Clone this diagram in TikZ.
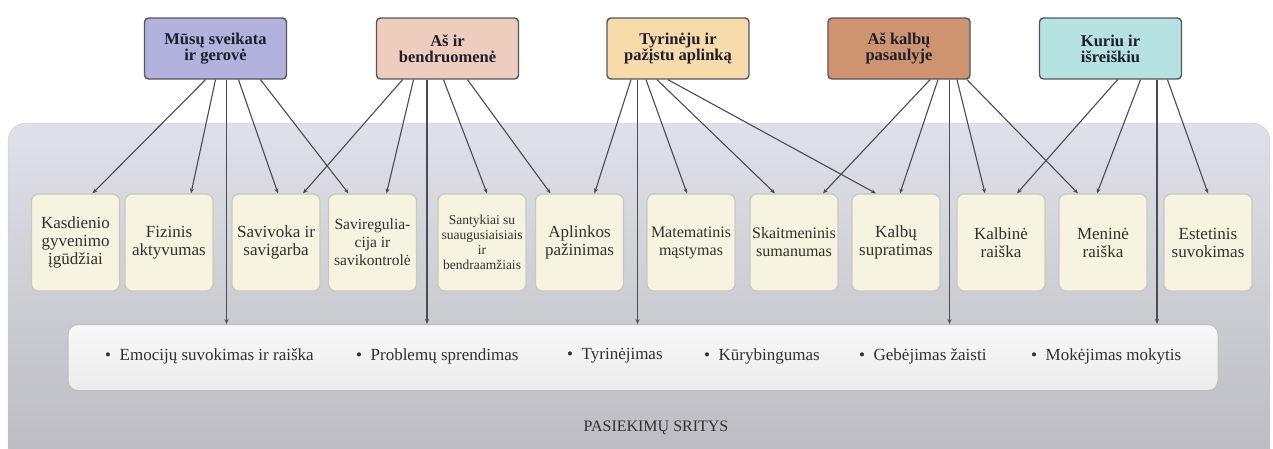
\documentclass[tikz,border=0pt]{standalone}
\usepackage{fontspec}
\setmainfont{Liberation Serif}
\usetikzlibrary{arrows.meta}

\definecolor{healthblue}{RGB}{178,178,220}
\definecolor{communitypink}{RGB}{238,205,190}
\definecolor{exploreorange}{RGB}{247,219,170}
\definecolor{languagebrown}{RGB}{206,148,112}
\definecolor{createcyan}{RGB}{182,226,226}
\definecolor{boxedge}{RGB}{85,85,95}
\definecolor{cream}{RGB}{246,243,224}
\definecolor{creamedge}{RGB}{200,200,194}
\definecolor{linkgray}{RGB}{75,75,82}
\definecolor{inkgray}{RGB}{50,48,46}
\definecolor{titleink}{RGB}{30,30,45}
\definecolor{paneltop}{RGB}{224,224,232}
\definecolor{panelbottom}{RGB}{186,186,192}

\begin{document}
\begin{tikzpicture}[x=1pt, y=-1pt,
  every node/.style={align=center, text=inkgray, inner sep=1pt},
  topbox/.style={draw=boxedge, line width=1.4pt, rounded corners=4pt, minimum width=142pt, minimum height=61pt, text=titleink, font=\fontsize{16.5}{16}\selectfont\bfseries},
  midbox/.style={draw=creamedge, fill=cream, line width=1.2pt, rounded corners=7pt, minimum width=88pt, minimum height=97pt, font=\fontsize{17}{18}\selectfont},
  item/.style={anchor=west, font=\fontsize{17}{17}\selectfont},
  link/.style={draw=linkgray, line width=1.1pt, -{Stealth[length=5pt,width=4pt]}}]
\useasboundingbox (0,0) rectangle (1273,448);
\fill[white] (0,0) rectangle (1273,448);
\begin{scope}
\clip (0,0) rectangle (1273,448);
\shade[top color=paneltop, bottom color=panelbottom, draw=gray!40, rounded corners=18pt] (8,123) rectangle (1270,470);
\end{scope}
\node[topbox, fill=healthblue] (R1N1) at (215.5,48.5) {Mūsų sveikata\\ir gerovė};
\node[topbox, fill=communitypink] (R1N2) at (447.5,48.5) {Aš ir\\bendruomenė};
\node[topbox, fill=exploreorange] (R1N3) at (678,48.5) {Tyrinėju ir\\pažįstu aplinką};
\node[topbox, fill=languagebrown] (R1N4) at (899,48.5) {Aš kalbų\\pasaulyje};
\node[topbox, fill=createcyan] (R1N5) at (1110.5,48.5) {Kuriu ir\\išreiškiu};
\node[midbox] (R2N1) at (75.5,242.5) {Kasdienio\\gyvenimo\\įgūdžiai};
\node[midbox] (R2N2) at (169,242.5) {Fizinis\\aktyvumas};
\node[midbox] (R2N3) at (276,242.5) {Savivoka ir\\savigarba};
\node[midbox, font=\fontsize{15.5}{18}\selectfont] (R2N4) at (372.5,242.5) {Saviregulia-\\cija ir\\savikontrolė};
\node[midbox, font=\fontsize{13.5}{15}\selectfont] (R2N5) at (482,242.5) {Santykiai su\\suaugusiaisiais\\ir\\bendraamžiais};
\node[midbox] (R2N6) at (579.5,242.5) {Aplinkos\\pažinimas};
\node[midbox, font=\fontsize{16}{18}\selectfont] (R2N7) at (691,242.5) {Matematinis\\mąstymas};
\node[midbox, font=\fontsize{16}{18}\selectfont] (R2N8) at (794,242.5) {Skaitmeninis\\sumanumas};
\node[midbox] (R2N9) at (896,242.5) {Kalbų\\supratimas};
\node[midbox] (R2N10) at (1001,242.5) {Kalbinė\\raiška};
\node[midbox] (R2N11) at (1103,242.5) {Meninė\\raiška};
\node[midbox] (R2N12) at (1208,242.5) {Estetinis\\suvokimas};
\node[draw=gray!50, top color=gray!5!white, bottom color=gray!15!white, line width=1pt, rounded corners=10pt, minimum width=1150pt, minimum height=66pt] (R3N1) at (643,357.5) {};
\node[item] (R3I1) at (104,356) {\textbullet\ \ Emocijų suvokimas ir raiška};
\node[item] (R3I2) at (355,356) {\textbullet\ \ Problemų sprendimas};
\node[item] (R3I3) at (566,356) {\textbullet\ \ Tyrinėjimas};
\node[item] (R3I4) at (703,356) {\textbullet\ \ Kūrybingumas};
\node[item] (R3I5) at (858,356) {\textbullet\ \ Gebėjimas žaisti};
\node[item] (R3I6) at (1030,356) {\textbullet\ \ Mokėjimas mokytis};
\node[font=\fontsize{16}{16}\selectfont] (R3T) at (656,428) {PASIEKIMŲ SRITYS};
% Mūsų sveikata ir gerovė
\draw[link] ([xshift=-10pt]R1N1.south) -- ([xshift=17pt]R2N1.north);
\draw[link] ([xshift=0pt]R1N1.south) -- ([xshift=22pt]R2N2.north);
\draw[link] ([xshift=23pt]R1N1.south) -- ([xshift=2pt]R2N3.north);
\draw[link] ([xshift=45pt]R1N1.south) -- ([xshift=-24pt]R2N4.north);
% Aš ir bendruomenė
\draw[link] ([xshift=-45pt]R1N2.south) -- ([xshift=27pt]R2N3.north);
\draw[link] ([xshift=-34pt]R1N2.south) -- ([xshift=14pt]R2N4.north);
\draw[link] ([xshift=-4pt]R1N2.south) -- ([xshift=5pt]R2N5.north);
\draw[link] ([xshift=20pt]R1N2.south) -- ([xshift=-29pt]R2N6.north);
% Tyrinėju ir pažįstu aplinką
\draw[link] ([xshift=-47pt]R1N3.south) -- ([xshift=15pt]R2N6.north);
\draw[link] ([xshift=-32pt]R1N3.south) -- ([xshift=-4pt]R2N7.north);
\draw[link] ([xshift=-21pt]R1N3.south) -- ([xshift=-19pt]R2N8.north);
\draw[link] ([xshift=-10pt]R1N3.south) -- ([xshift=-20pt]R2N9.north);
% Aš kalbų pasaulyje
\draw[link] ([xshift=31pt]R1N4.south) -- ([xshift=29pt]R2N8.north);
\draw[link] ([xshift=39pt]R1N4.south) -- ([xshift=4pt]R2N9.north);
\draw[link] ([xshift=58pt]R1N4.south) -- ([xshift=-16pt]R2N10.north);
\draw[link] ([xshift=68pt]R1N4.south) -- ([xshift=-25pt]R2N11.north);
% Kuriu ir išreiškiu
\draw[link] ([xshift=7pt]R1N5.south) -- ([xshift=16pt]R2N10.north);
\draw[link] ([xshift=30pt]R1N5.south) -- ([xshift=-6pt]R2N11.north);
\draw[link] ([xshift=57pt]R1N5.south) -- ([xshift=0pt]R2N12.north);
% vertical links to the bottom box
\coordinate (V1) at ([xshift=11pt]R1N1.south);
\coordinate (V2) at ([xshift=-20.5pt]R1N2.south);
\coordinate (V3) at ([xshift=-40.5pt]R1N3.south);
\coordinate (V4) at ([xshift=50.5pt]R1N4.south);
\coordinate (V5) at ([xshift=46.5pt]R1N5.south);
\foreach \v in {V1,V2,V3,V4,V5}
  \draw[link] (\v) -- (\v |- R3N1.north);
\end{tikzpicture}
\end{document}
